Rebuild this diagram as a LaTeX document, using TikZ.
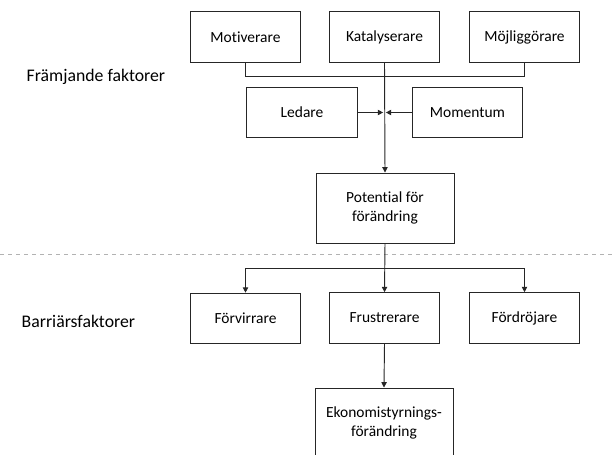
\documentclass[tikz,border=0pt]{standalone}
\usepackage{fontspec}
\setmainfont{Carlito}[Ligatures=NoCommon]
\usetikzlibrary{arrows.meta}
\colorlet{box edge}{black!85}
\colorlet{split line}{black!30}
\tikzset{
  block/.style={draw=box edge, line width=0.7pt, minimum width=83pt, minimum height=38pt, align=center, font=\fontsize{11.6}{14.5}\selectfont},
  wide block/.style={block, minimum width=103.5pt, minimum height=52.5pt}
  }
\tikzstyle{link} = [draw=box edge, line width=0.7pt]
\tikzstyle{flow} = [link, -{Triangle[length=4pt,width=4pt]}]
\tikzstyle{side label} = [anchor=west, font=\fontsize{13.3}{16}\selectfont]

\begin{document}
\begin{tikzpicture}[x=0.75pt, y=-0.75pt]
       \useasboundingbox (0,0) rectangle (614,454);
       \foreach \pos/\name/\txt in {{(245.5,37)/motiv/Motiverare}, {(384.5,37)/katal/Katalyserare}, {(524.5,37)/mojlig/Möjliggörare}, {(302,112.5)/ledare/Ledare}, {(467.5,112.5)/moment/Momentum}, {(245.5,318.5)/forv/Förvirrare}, {(384.5,318)/frust/Frustrerare}, {(524.5,318)/fordr/Fördröjare}} {
           \node[block] (\name) at \pos {\txt};
       }
       \node[wide block] (potent) at (385,208) {Potential för\\förändring};
       \node[wide block] (ekon) at (384,423) {Ekonomistyrnings-\\förändring};

       \node[side label] (framj) at (22,77) {Främjande faktorer};
       \node[side label] (barr) at (17,321) {Barriärsfaktorer};

       % upper part
       \draw[link] (motiv.south) -- ++(0,14) -| (mojlig.south);
       \draw[flow] (katal.south) -- (potent.north);
       \coordinate (meet) at (384.5,112.5);
       \draw[flow, shorten >=1pt] (ledare.east) -- (meet);
       \draw[flow, shorten >=1pt] (moment.west) -- (meet);

       \draw[split line, dashed] (0,254) -- (614,254);

       % lower part
       \coordinate (fork) at (384.5,268);
       \draw[flow] (potent.south) -- (frust.north);
       \draw[flow] (fork) -| (forv.north);
       \draw[flow] (fork) -| (fordr.north);
       \draw[flow] (frust.south) -- (ekon.north);
\end{tikzpicture}
\end{document}
